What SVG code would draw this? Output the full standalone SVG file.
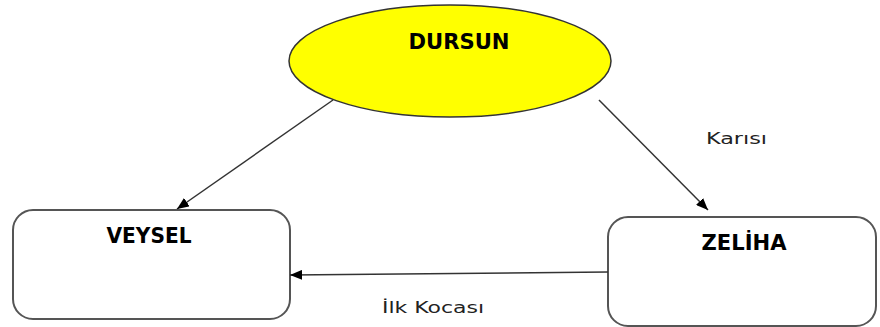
<svg xmlns="http://www.w3.org/2000/svg" width="880" height="327" viewBox="0 0 880 327">
<style>
.box{fill:#fff;stroke:#555;stroke-width:2}
.ell{fill:#ffff00;stroke:#333;stroke-width:1.5}
.title{font-family:"DejaVu Sans",Verdana,sans-serif;font-weight:bold;font-size:21px;fill:#000}
.lbl{font-family:"DejaVu Sans",Verdana,sans-serif;font-size:16px;fill:#222}
.edge{stroke:#333;stroke-width:1.5;fill:none;marker-end:url(#ah)}
</style>
<defs>
<marker id="ah" viewBox="0 0 12 10" refX="12" refY="5" markerWidth="12" markerHeight="10" markerUnits="userSpaceOnUse" orient="auto">
<path d="M0,0 L12,5 L0,10 Z" fill="#000"/>
</marker>
</defs>
<g id="dursun">
<ellipse class="ell" cx="450" cy="61" rx="161" ry="56"/>
<text class="title" x="459" y="49" text-anchor="middle" textLength="101" lengthAdjust="spacingAndGlyphs">DURSUN</text>
</g>
<g id="veysel">
<rect class="box" x="13" y="210" width="277" height="109" rx="20" ry="20"/>
<text class="title" x="149" y="243" text-anchor="middle" textLength="85" lengthAdjust="spacingAndGlyphs">VEYSEL</text>
</g>
<g id="zeliha">
<rect class="box" x="608" y="217" width="268" height="109" rx="20" ry="20"/>
<text class="title" x="744" y="250" text-anchor="middle" textLength="85" lengthAdjust="spacingAndGlyphs">ZELİHA</text>
</g>
<g id="connectors">
<line class="edge" x1="333" y1="100" x2="177" y2="209"/>
<line class="edge" x1="599" y1="100" x2="708" y2="210"/>
<line class="edge" x1="608" y1="272" x2="290" y2="275"/>
</g>
<g id="labels">
<text class="lbl" x="706" y="144" textLength="61" lengthAdjust="spacingAndGlyphs">Karısı</text>
<text class="lbl" x="382" y="313" textLength="102" lengthAdjust="spacingAndGlyphs">İlk Kocası</text>
</g>
</svg>
